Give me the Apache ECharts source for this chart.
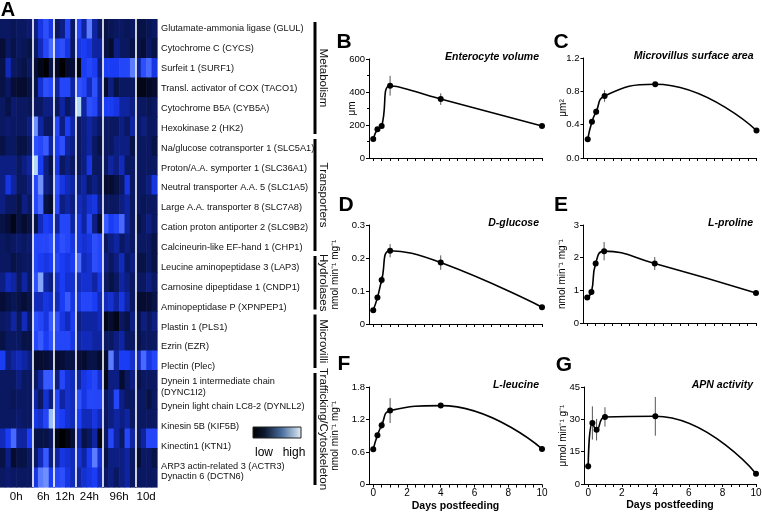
<!DOCTYPE html>
<html><head><meta charset="utf-8">
<script src="https://cdn.jsdelivr.net/npm/echarts@6/dist/echarts.min.js"></script>
<style>html,body{margin:0;padding:0;background:#fff}#c{width:762px;height:522px}</style>
</head><body><div id="c"></div><script>
// ---------- Heatmap data ----------
const genes = [
 'Glutamate-ammonia ligase (GLUL)','Cytochrome C (CYCS)','Surfeit 1 (SURF1)','Transl. activator of COX (TACO1)',
 'Cytochrome B5A (CYB5A)','Hexokinase 2 (HK2)','Na/glucose cotransporter 1 (SLC5A1)','Proton/A.A. symporter 1 (SLC36A1)',
 'Neutral transporter A.A. 5 (SLC1A5)','Large A.A. transporter 8 (SLC7A8)','Cation proton antiporter 2 (SLC9B2)','Calcineurin-like EF-hand 1 (CHP1)',
 'Leucine aminopeptidase 3 (LAP3)','Carnosine dipeptidase 1 (CNDP1)','Aminopeptidase P (XPNPEP1)','Plastin 1 (PLS1)',
 'Ezrin (EZR)','Plectin (Plec)','Dynein 1 intermediate chain\n(DYNC1I2)','Dynein light chain LC8-2 (DYNLL2)',
 'Kinesin 5B (KIF5B)','Kinectin1 (KTN1)','ARP3 actin-related 3 (ACTR3)','Dynactin 6 (DCTN6)'
];
const timeGroups = ['0h','6h','12h','24h','96h','10d'];
const groupColumns = [6,4,4,5,6,4];
const geneGroups = ['Metabolism','Transporters','Hydrolases','Microvilli','Trafficking/Cytoskeleton'];
const geneGroupRows = [[0,6],[6,12],[12,15],[15,18],[18,24]];
const heatRows = [
 [0.2,0.2,0.18,0.2,0.2,0.22, 0.25,0.45,0.6,0.45, 0.2,0.25,0.55,0.2, 0.55,0.3,0.75,0.3,0.2, 0.15,0.18,0.2,0.2,0.18,0.2, 0.15,0.15,0.18,0.2],
 [0.12,0.2,0.15,0.2,0.18,0.15, 0.2,0.35,0.55,0.7, 0.55,0.6,0.45,0.2, 0.45,0.5,0.45,0.3,0.3, 0.15,0.1,0.25,0.2,0.2,0.15, 0.15,0.12,0.2,0.15],
 [0.15,0.35,0.2,0.18,0.15,0.2, 0.12,0.05,0.0,0.15, 0.08,0.0,0.1,0.12, 0.05,0.5,0.55,0.5,0.25, 0.5,0.5,0.5,0.55,0.55,0.75, 0.3,0.6,0.7,0.45],
 [0.15,0.2,0.12,0.1,0.1,0.15, 0.15,0.4,0.6,0.55, 0.3,0.55,0.55,0.3, 0.6,0.55,0.35,0.6,0.3, 0.1,0.25,0.15,0.2,0.2,0.2, 0.05,0.05,0.08,0.1],
 [0.2,0.15,0.22,0.2,0.2,0.18, 0.2,0.2,0.25,0.25, 0.2,0.3,0.2,0.25, 0.95,0.3,0.6,0.55,0.3, 0.5,0.5,0.45,0.3,0.3,0.25, 0.2,0.2,0.18,0.2],
 [0.2,0.22,0.2,0.2,0.2,0.25, 0.8,0.3,0.2,0.2, 0.55,0.25,0.5,0.3, 0.2,0.25,0.3,0.25,0.2, 0.2,0.2,0.2,0.25,0.2,0.3, 0.2,0.25,0.2,0.2],
 [0.15,0.2,0.2,0.15,0.15,0.2, 0.6,0.55,0.65,0.3, 0.5,0.6,0.3,0.25, 0.2,0.25,0.3,0.2,0.15, 0.2,0.2,0.25,0.25,0.25,0.15, 0.2,0.2,0.2,0.15],
 [0.25,0.25,0.25,0.2,0.25,0.3, 0.95,0.5,0.25,0.15, 0.45,0.2,0.25,0.2, 0.2,0.25,0.45,0.2,0.2, 0.2,0.3,0.25,0.35,0.2,0.2, 0.2,0.2,0.2,0.2],
 [0.25,0.45,0.3,0.2,0.2,0.25, 0.55,0.8,0.25,0.2, 0.6,0.45,0.35,0.3, 0.25,0.3,0.2,0.25,0.2, 0.1,0.1,0.15,0.2,0.45,0.2, 0.2,0.2,0.25,0.45],
 [0.25,0.2,0.2,0.15,0.25,0.2, 0.55,0.7,0.15,0.1, 0.55,0.25,0.3,0.25, 0.35,0.3,0.4,0.45,0.25, 0.2,0.2,0.2,0.25,0.3,0.2, 0.2,0.18,0.2,0.2],
 [0.15,0.12,0.05,0.15,0.1,0.15, 0.15,0.35,0.5,0.45, 0.3,0.55,0.55,0.3, 0.45,0.3,0.55,0.25,0.1, 0.65,0.5,0.55,0.7,0.3,0.2, 0.15,0.2,0.25,0.2],
 [0.2,0.18,0.2,0.22,0.2,0.22, 0.55,0.55,0.55,0.6, 0.5,0.6,0.55,0.45, 0.45,0.4,0.45,0.6,0.55, 0.2,0.25,0.3,0.2,0.25,0.2, 0.2,0.2,0.2,0.15],
 [0.2,0.2,0.15,0.18,0.2,0.2, 0.55,0.5,0.45,0.5, 0.55,0.5,0.45,0.5, 0.7,0.35,0.4,0.6,0.55, 0.25,0.2,0.25,0.35,0.2,0.25, 0.15,0.15,0.2,0.15],
 [0.25,0.35,0.3,0.2,0.3,0.2, 0.6,0.85,0.3,0.25, 0.4,0.5,0.4,0.4, 0.35,0.4,0.4,0.3,0.45, 0.2,0.15,0.2,0.3,0.25,0.2, 0.2,0.2,0.25,0.2],
 [0.12,0.15,0.18,0.15,0.12,0.15, 0.35,0.35,0.45,0.4, 0.35,0.5,0.65,0.45, 0.45,0.55,0.55,0.5,0.35, 0.35,0.4,0.3,0.45,0.3,0.2, 0.1,0.1,0.12,0.15],
 [0.2,0.22,0.3,0.2,0.35,0.2, 0.6,0.55,0.45,0.65, 0.6,0.45,0.35,0.5, 0.25,0.3,0.3,0.3,0.35, 0.05,0.1,0.05,0.2,0.15,0.25, 0.15,0.25,0.2,0.25],
 [0.15,0.2,0.2,0.2,0.15,0.15, 0.55,0.65,0.5,0.6, 0.55,0.55,0.55,0.45, 0.3,0.35,0.35,0.3,0.3, 0.2,0.2,0.25,0.3,0.2,0.2, 0.15,0.2,0.2,0.2],
 [0.5,0.25,0.3,0.35,0.3,0.25, 0.1,0.1,0.12,0.15, 0.1,0.12,0.15,0.15, 0.12,0.1,0.15,0.15,0.1, 0.1,0.75,0.3,0.5,0.5,0.4, 0.35,0.7,0.45,0.55],
 [0.2,0.2,0.2,0.25,0.2,0.2, 0.2,0.3,0.65,0.65, 0.25,0.55,0.4,0.35, 0.3,0.45,0.5,0.55,0.4, 0.05,0.25,0.25,0.1,0.2,0.25, 0.15,0.2,0.2,0.2],
 [0.2,0.2,0.18,0.2,0.2,0.2, 0.3,0.2,0.4,0.25, 0.55,0.3,0.4,0.35, 0.6,0.45,0.55,0.55,0.55, 0.2,0.25,0.55,0.25,0.2,0.2, 0.2,0.2,0.15,0.2],
 [0.2,0.2,0.2,0.22,0.2,0.2, 0.45,0.4,0.55,0.9, 0.55,0.5,0.4,0.35, 0.5,0.35,0.35,0.45,0.35, 0.2,0.25,0.3,0.25,0.3,0.2, 0.2,0.2,0.2,0.2],
 [0.35,0.5,0.7,0.3,0.3,0.5, 0.15,0.15,0.15,0.2, 0.05,0.0,0.05,0.12, 0.3,0.15,0.2,0.3,0.05, 0.2,0.55,0.3,0.2,0.55,0.3, 0.2,0.3,0.55,0.55],
 [0.15,0.25,0.1,0.15,0.15,0.2, 0.2,0.35,0.65,0.25, 0.3,0.45,0.4,0.35, 0.4,0.3,0.5,0.75,0.4, 0.15,0.25,0.25,0.25,0.3,0.2, 0.1,0.2,0.2,0.15],
 [0.2,0.22,0.2,0.2,0.2,0.2, 0.45,0.75,0.8,0.5, 0.55,0.6,0.45,0.35, 0.3,0.4,0.45,0.5,0.35, 0.2,0.25,0.2,0.25,0.3,0.2, 0.2,0.2,0.2,0.2]
];

// ---------- Line chart data ----------
const days = [0, 0.25, 0.5, 1, 4, 10];
const dayTickValues = [0,0.5,1,1.5,2,2.5,3,3.5,4,4.5,5,5.5,6,6.5,7,7.5,8,8.5,9,9.5,10];
const dayLabelValues = [0,2,4,6,8,10];
const enterocyteVolume = [115, 174, 194, 438, 357, 194];
const enterocyteVolumeErr = [12, 12, 15, 60, 35, 5];
const microvillusArea = [0.226, 0.435, 0.555, 0.745, 0.885, 0.33];
const microvillusAreaErr = [0.02, 0.02, 0.04, 0.07, 0.02, 0.02];
const dGlucose = [0.042, 0.08, 0.133, 0.222, 0.186, 0.051];
const dGlucoseErr = [0.005, 0.008, 0.012, 0.02, 0.022, 0.004];
const lProline = [0.78, 0.95, 1.82, 2.2, 1.82, 0.92];
const lProlineErr = [0.05, 0.08, 0.05, 0.28, 0.2, 0.05];
const lLeucine = [0.651, 0.909, 1.094, 1.364, 1.457, 0.657];
const lLeucineErr = [0.05, 0.03, 0.07, 0.23, 0.02, 0.05];
const apnActivity = [8.2, 28.3, 25.2, 31.1, 31.4, 4.8];
const apnActivityErr = [1.5, 7.7, 5, 4.5, 9, 1];

const panels = [
 {letter:'B', title:'Enterocyte volume', y:enterocyteVolume, e:enterocyteVolumeErr, max:600, interval:200, unit:'μm', dec:0, minor:true},
 {letter:'C', title:'Microvillus surface area', y:microvillusArea, e:microvillusAreaErr, max:1.2, interval:0.4, unit:'μm²', dec:1},
 {letter:'D', title:'D-glucose', y:dGlucose, e:dGlucoseErr, max:0.3, interval:0.1, unit:'nmol min⁻¹ mg⁻¹', dec:-1},
 {letter:'E', title:'L-proline', y:lProline, e:lProlineErr, max:3, interval:1, unit:'nmol min⁻¹ mg⁻¹', dec:0},
 {letter:'F', title:'L-leucine', y:lLeucine, e:lLeucineErr, max:1.8, interval:0.6, unit:'nmol min⁻¹ mg⁻¹', dec:-1},
 {letter:'G', title:'APN activity', y:apnActivity, e:apnActivityErr, max:45, interval:15, unit:'μmol min⁻¹ g⁻¹', dec:0}
];

// ---------- Layout ----------
const FONT = "'Liberation Sans', Arial, sans-serif";
const lineGrids = [
 {left:369, top:59, width:173, height:99, gap:12, showX:false},
 {left:583.5, top:58, width:173, height:100, gap:15, showX:false},
 {left:369, top:225, width:173, height:99, gap:29, showX:false},
 {left:583, top:225, width:173, height:98, gap:16, showX:false},
 {left:369, top:387, width:173, height:97.5, gap:29, showX:true},
 {left:584, top:387, width:172, height:97, gap:16, showX:true}
];
const letterPos = [[344,42],[561,42],[346,205],[561,205],[344,364],[564,365]];
const heatBox = {left:0, top:19, width:157, height:468};
const labelBox = {left:0, top:19, width:157, height:477};
const labelRaise = {'Dynactin 6 (DCTN6)': 10};   // label drawn higher than its slot in the figure

const grids = [], xAxes = [], yAxes = [], series = [], graphics = [];
panels.forEach((p, i) => {
  const g = lineGrids[i];
  grids.push({left:g.left, top:g.top, width:g.width, height:g.height, outerBoundsMode:'none', containLabel:false});
  xAxes.push({gridIndex:i, type:'value', min:-0.25, max:10,
    axisLine:{show:true, onZero:false, lineStyle:{color:'#000', width:1}},
    axisTick:{show:true, length:3, customValues:dayTickValues, lineStyle:{color:'#000'}},
    axisLabel:{show:g.showX, customValues:dayLabelValues, fontSize:10, color:'#000', margin:4, fontFamily:FONT},
    splitLine:{show:false},
    name:g.showX ? 'Days postfeeding' : '', nameLocation:'middle', nameGap:16, nameMoveOverlap:false,
    nameTextStyle:{fontWeight:'bold', fontSize:10.5, color:'#000', fontFamily:FONT}});
  yAxes.push({gridIndex:i, type:'value', min:0, max:p.max, interval:p.interval,
    axisLine:{show:true, onZero:false, lineStyle:{color:'#000', width:1}},
    axisTick:{show:true, length:3, lineStyle:{color:'#000'}},
    minorTick:{show:!!p.minor, splitNumber:2, length:2, lineStyle:{color:'#000'}},
    axisLabel:{fontSize:9.5, color:'#000', margin:4, fontFamily:FONT,
      formatter: v => v === 0 ? (p.dec === 1 ? '0.0' : '0') : (p.dec === 1 ? v.toFixed(1) : String(+v.toFixed(2)))},
    splitLine:{show:false},
    name:p.unit, nameLocation:'middle', nameGap:g.gap, nameRotate:90, nameMoveOverlap:false,
    nameTextStyle:{fontSize:10, color:'#000', fontFamily:FONT}});
  series.push({type:'custom', xAxisIndex:i, yAxisIndex:i, silent:true, z:2,
    data: days.map((d,k) => [d, p.y[k], p.e[k]]),
    renderItem: (params, api) => {
      const x = api.value(0), y = api.value(1), e = api.value(2);
      const a = api.coord([x, y - e]), b = api.coord([x, y + e]);
      return {type:'line', shape:{x1:a[0], y1:a[1], x2:b[0], y2:b[1]}, style:{stroke:'#555', lineWidth:1}};
    }});
  series.push({type:'line', xAxisIndex:i, yAxisIndex:i, z:3,
    data: days.map((d,k) => [d, p.y[k]]), smooth:0.5,
    symbol:'circle', symbolSize:6, itemStyle:{color:'#000'},
    lineStyle:{color:'#000', width:1.6}});
  graphics.push({type:'text', x:g.left + g.width - 3, y:g.top - 2, style:{text:p.title, align:'right', verticalAlign:'middle',
    font:"italic bold 10.5px " + FONT, fill:'#000'}});
  graphics.push({type:'text', x:letterPos[i][0], y:letterPos[i][1], style:{text:p.letter, align:'center', verticalAlign:'middle',
    font:"bold 21px " + FONT, fill:'#000'}});
});

// heatmap grid
const HI = panels.length;
grids.push({left:heatBox.left, top:heatBox.top, width:heatBox.width, height:heatBox.height, outerBoundsMode:'none', containLabel:false});
const totalCols = groupColumns.reduce((a,b)=>a+b,0);
const boundaries = []; const centers = {}; let acc = 0;
groupColumns.forEach((n, k) => { centers[acc + n/2] = timeGroups[k]; acc += n; if (k < groupColumns.length - 1) boundaries.push(acc); });
xAxes.push({gridIndex:HI, type:'value', min:0, max:totalCols,
  axisLine:{show:false}, axisTick:{show:false}, splitLine:{show:false},
  axisLabel:{customValues:Object.keys(centers).map(Number), formatter:v => centers[v] || '', fontSize:11.5, color:'#000', margin:4, fontFamily:FONT}});
yAxes.push({gridIndex:HI, type:'category', data:genes, inverse:true,
  axisLine:{show:false}, axisTick:{show:false}, splitLine:{show:false}, axisLabel:{show:false}});
// gene label axis
grids.push({left:labelBox.left, top:labelBox.top, width:labelBox.width, height:labelBox.height, outerBoundsMode:'none', containLabel:false});
xAxes.push({gridIndex:HI+1, type:'value', show:false, min:0, max:1});
yAxes.push({gridIndex:HI+1, type:'category', data:genes, inverse:true, position:'right',
  axisLine:{show:false}, axisTick:{show:false}, splitLine:{show:false},
  axisLabel:{fontSize:9.2, color:'#111', margin:4, lineHeight:11, fontFamily:FONT, interval:0,
    formatter: v => labelRaise[v] ? '{up|' + v + '}' : v,
    rich:{up:{fontSize:9.2, color:'#111', fontFamily:FONT, padding:[0,0,2*labelRaise['Dynactin 6 (DCTN6)'],0]}}}});

const heatData = [];
heatRows.forEach((row, r) => row.forEach((v, c) => heatData.push([c, r, v])));
series.push({type:'custom', xAxisIndex:HI, yAxisIndex:HI, silent:true, data:heatData, encode:{x:0, y:1},
  renderItem: (params, api) => {
    const c = api.value(0), r = api.value(1);
    const p0 = api.coord([c, r]); const p1 = api.coord([c + 1, r]);
    const h = api.size([1, 1])[1];
    return {type:'rect', shape:{x:p0[0], y:p0[1] - h/2, width:p1[0] - p0[0] + 0.6, height:h + 0.6},
      style:{fill:api.visual('color')}};
  },
  markLine:{silent:true, symbol:'none', label:{show:false}, lineStyle:{color:'#fff', width:1.6, type:'solid'},
    data: boundaries.map(b => ({xAxis:b}))}
});
const heatSeriesIndex = series.length - 1;

// group brackets
const rowH = heatBox.height / genes.length;
geneGroups.forEach((name, k) => {
  const y0 = heatBox.top + geneGroupRows[k][0] * rowH + 3;
  const y1 = heatBox.top + geneGroupRows[k][1] * rowH - 2;
  graphics.push({type:'rect', shape:{x:313.5, y:y0, width:3, height:y1 - y0}, style:{fill:'#000'}});
  graphics.push({type:'text', x:323, y:(y0 + y1)/2, rotation:-Math.PI/2,
    style:{text:name, align:'center', verticalAlign:'middle', font:"11.5px " + FONT, fill:'#111'}});
});
// colour key
graphics.push({type:'rect', shape:{x:253, y:427, width:48, height:11},
  style:{stroke:'#222', lineWidth:1, fill:new echarts.graphic.LinearGradient(0,0,1,0,[
    {offset:0, color:'#000'}, {offset:0.25, color:'#0c1830'}, {offset:0.6, color:'#4a6e9e'}, {offset:1, color:'#e4eef8'}])}});
graphics.push({type:'text', x:264, y:453, style:{text:'low', align:'center', verticalAlign:'middle', font:"12px " + FONT, fill:'#000'}});
graphics.push({type:'text', x:294, y:453, style:{text:'high', align:'center', verticalAlign:'middle', font:"12px " + FONT, fill:'#000'}});
graphics.push({type:'text', x:8, y:10, style:{text:'A', align:'center', verticalAlign:'middle', font:"bold 20px " + FONT, fill:'#000'}});

const chart = echarts.init(document.getElementById('c'), null, {renderer:'canvas'});
chart.setOption({
  animation:false,
  backgroundColor:'#fff',
  textStyle:{fontFamily:FONT},
  grid:grids, xAxis:xAxes, yAxis:yAxes,
  visualMap:{type:'continuous', show:false, min:0, max:1, dimension:2, seriesIndex:heatSeriesIndex,
    inRange:{color:['#000000','#08144e','#1028b4','#1a3cf5','#3a5cff','#7c9cff','#c8f0f4']}},
  series:series,
  graphic:graphics
});
</script></body></html>
